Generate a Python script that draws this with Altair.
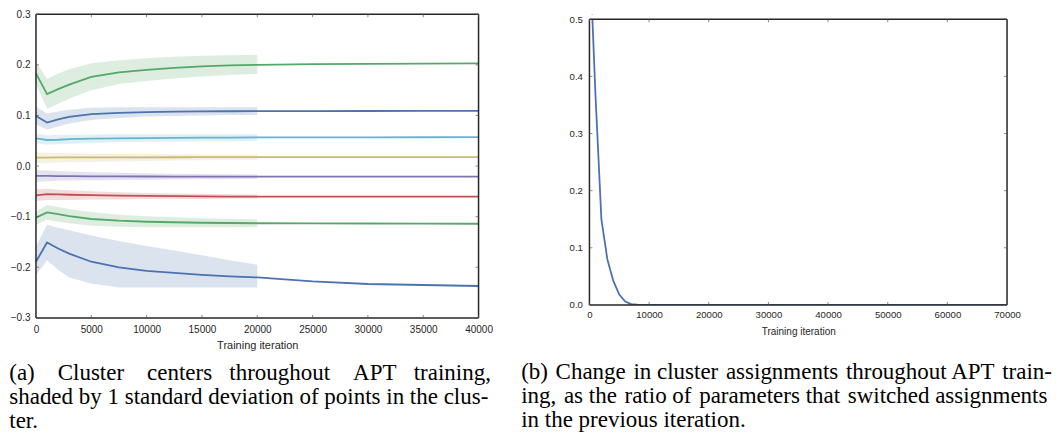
import altair as alt
import pandas as pd

# ---------------- Panel (a): cluster centers ----------------
ITER = [0, 1000, 2000, 3000, 5000, 7500, 10000, 12500, 15000, 17500, 20000,
        25000, 30000, 35000, 40000]
BAND_ITER = [0, 1000, 2000, 3000, 5000, 7500, 10000, 12500, 15000, 17500, 20000]

SERIES = ["c1", "c2", "c3", "c4", "c5", "c6", "c7", "c8"]
COLORS = ["#55A868", "#4C72B0", "#64B5CD", "#CCB974", "#8172B2", "#C44E52",
          "#55A868", "#4C72B0"]

c1_mean = [0.183, 0.142, 0.152, 0.161, 0.176, 0.185, 0.190, 0.194, 0.197, 0.199,
           0.200, 0.2015, 0.202, 0.2025, 0.203]
c1_upper = [0.206, 0.172, 0.183, 0.191, 0.203, 0.209, 0.213, 0.216, 0.218, 0.219, 0.220]
c1_lower = [0.162, 0.113, 0.123, 0.133, 0.150, 0.162, 0.168, 0.173, 0.177, 0.180, 0.182]

c2_mean = [0.0987, 0.086, 0.092, 0.097, 0.1026, 0.105, 0.1066, 0.1074, 0.108, 0.1083,
           0.1085, 0.1087, 0.1088, 0.1089, 0.109]
c2_upper = [0.117, 0.104, 0.108, 0.111, 0.115, 0.116, 0.116, 0.116, 0.116, 0.116, 0.116]
c2_lower = [0.082, 0.072, 0.078, 0.084, 0.091, 0.095, 0.098, 0.099, 0.100, 0.101, 0.101]

c3_mean = [0.0546, 0.0515, 0.052, 0.053, 0.054, 0.0548, 0.0553, 0.0557, 0.056, 0.0563,
           0.0566, 0.0567, 0.0568, 0.0569, 0.057]
c3_upper = [0.064, 0.061, 0.0615, 0.062, 0.0625, 0.063, 0.063, 0.063, 0.063, 0.063, 0.063]
c3_lower = [0.045, 0.042, 0.043, 0.044, 0.0455, 0.047, 0.048, 0.048, 0.049, 0.049, 0.050]

c4_mean = [0.0165, 0.0165, 0.017, 0.017, 0.017, 0.0172, 0.0173, 0.0174, 0.0175, 0.0175,
           0.0175, 0.0176, 0.0176, 0.0176, 0.0176]
c4_upper = [0.027, 0.0265, 0.026, 0.0255, 0.025, 0.0245, 0.024, 0.0235, 0.023, 0.023, 0.023]
c4_lower = [0.006, 0.0065, 0.007, 0.0075, 0.008, 0.009, 0.010, 0.011, 0.0115, 0.012, 0.012]

c5_mean = [-0.0195, -0.0196, -0.0198, -0.020, -0.0202, -0.0204, -0.0206, -0.0207, -0.0208,
           -0.0209, -0.021, -0.021, -0.021, -0.021, -0.021]
c5_upper = [-0.008, -0.009, -0.010, -0.011, -0.012, -0.013, -0.014, -0.015, -0.0155, -0.016, -0.0165]
c5_lower = [-0.031, -0.030, -0.029, -0.0285, -0.028, -0.0275, -0.027, -0.0265, -0.026, -0.026, -0.0257]

c6_mean = [-0.058, -0.0555, -0.056, -0.0567, -0.0575, -0.0583, -0.059, -0.0595, -0.060,
           -0.0603, -0.0605, -0.0605, -0.0605, -0.0605, -0.0605]
c6_upper = [-0.046, -0.045, -0.047, -0.048, -0.050, -0.052, -0.053, -0.054, -0.055, -0.0555, -0.056]
c6_lower = [-0.069, -0.067, -0.067, -0.067, -0.066, -0.066, -0.065, -0.065, -0.065, -0.064, -0.064]

c7_mean = [-0.102, -0.0915, -0.095, -0.099, -0.1046, -0.108, -0.110, -0.111, -0.112, -0.1125,
           -0.113, -0.1133, -0.1135, -0.1137, -0.114]
c7_upper = [-0.090, -0.077, -0.081, -0.085, -0.091, -0.096, -0.099, -0.101, -0.103, -0.104, -0.105]
c7_lower = [-0.116, -0.106, -0.110, -0.113, -0.118, -0.120, -0.121, -0.121, -0.121, -0.121, -0.121]

c8_mean = [-0.189, -0.151, -0.163, -0.173, -0.189, -0.200, -0.207, -0.211, -0.215, -0.218,
           -0.220, -0.228, -0.233, -0.235, -0.237]
c8_upper = [-0.159, -0.116, -0.122, -0.127, -0.137, -0.148, -0.158, -0.167, -0.176, -0.186, -0.195]
c8_lower = [-0.215, -0.186, -0.205, -0.220, -0.232, -0.240, -0.240, -0.240, -0.240, -0.240, -0.240]

MEANS = [c1_mean, c2_mean, c3_mean, c4_mean, c5_mean, c6_mean, c7_mean, c8_mean]
UPPERS = [c1_upper, c2_upper, c3_upper, c4_upper, c5_upper, c6_upper, c7_upper, c8_upper]
LOWERS = [c1_lower, c2_lower, c3_lower, c4_lower, c5_lower, c6_lower, c7_lower, c8_lower]

A_XDOM = [0, 40000]
A_YDOM = [-0.3, 0.3]
A_XTICKS = [0, 5000, 10000, 15000, 20000, 25000, 30000, 35000, 40000]
A_YTICKS = [-0.3, -0.2, -0.1, 0.0, 0.1, 0.2, 0.3]

# ---------------- Panel (b): assignment changes ----------------
RATIO_ITER = [0, 1000, 2000, 3000, 4000, 5000, 6000, 7000, 8000, 9000, 10000,
              20000, 30000, 40000, 50000, 60000, 70000]
RATIO = [0.63, 0.37, 0.15, 0.08, 0.042, 0.018, 0.006, 0.0015, 0.0003, 0.0, 0.0,
         0.0, 0.0, 0.0, 0.0, 0.0, 0.0]
B_XDOM = [0, 70000]
B_YDOM = [0.0, 0.5]
B_XTICKS = [0, 10000, 20000, 30000, 40000, 50000, 60000, 70000]
B_YTICKS = [0.0, 0.1, 0.2, 0.3, 0.4, 0.5]

NB = "\u00a0"
HS = "\u00a0\u200a"  # slightly widened word gap for the justified lines
CAPTION_A = ["(a)" + NB * 4 + "Cluster" + NB * 4 + "centers" + NB * 3 + "throughout"
             + NB * 4 + "APT" + NB * 3 + "training,",
             "shaded by 1 standard deviation of points in the clus-",
             "ter."]
CAPTION_B = ["(b)" + HS + "Change" + HS + "in cluster" + HS + "assignments" + HS
             + "throughout APT" + HS + "train-",
             "ing," + HS + "as the" + HS + "ratio of" + HS + "parameters that" + HS
             + "switched assignments",
             "in the previous iteration."]

# ---------------- layout constants ----------------
A_W, A_H = 443, 304
B_W, B_PLOT_H, B_TOP_GAP = 418, 286, 5
B_H = B_PLOT_H + B_TOP_GAP
B_YTOP = B_YDOM[1] * B_H / B_PLOT_H  # view top sits a few px above the 0.5 frame

LABEL_FONT = "Liberation Sans"
TXT = "#262626"
TICK = "#555555"
SPINE_W = 1.5

# ---------------- tables ----------------
line_rows, band_rows = [], []
for s, m, u, l in zip(SERIES, MEANS, UPPERS, LOWERS):
    for x, v in zip(ITER, m):
        line_rows.append({"series": s, "iter": x, "value": v})
    for x, hi, lo in zip(BAND_ITER, u, l):
        band_rows.append({"series": s, "iter": x, "upper": hi, "lower": lo})
lines_df = pd.DataFrame(line_rows)
bands_df = pd.DataFrame(band_rows)
ratio_df = pd.DataFrame({"iter": RATIO_ITER, "ratio": RATIO})


def frame_df(xd, yd):
    return pd.DataFrame({
        "x": [xd[0], xd[1], xd[0], xd[0]],
        "x2": [xd[0], xd[1], xd[1], xd[1]],
        "y": [yd[0], yd[0], yd[1], yd[0]],
        "y2": [yd[1], yd[1], yd[1], yd[0]],
    })


def edge_df(ticks, edge):
    return pd.DataFrame({"t": ticks, "edge": [edge] * len(ticks)})


def x_axis(vals, size, tsize, lpad, tpad):
    return alt.Axis(values=vals, format="d", title="Training iteration", grid=False,
                    ticks=False, domain=False, labelPadding=lpad, labelFlush=False,
                    labelOverlap=False, labelFont=LABEL_FONT, labelFontSize=size,
                    labelColor=TXT, titleFont=LABEL_FONT, titleFontSize=tsize,
                    titleFontWeight="normal", titleColor=TXT, titlePadding=tpad)


def y_axis(vals, size, lpad):
    return alt.Axis(values=vals, format=".1f", title=None, grid=False, ticks=False,
                    domain=False, labelPadding=lpad, labelFlush=False, labelOverlap=False,
                    labelFont=LABEL_FONT, labelFontSize=size, labelColor=TXT)


def decorations(xs, ys, xa, ya, xd, yd, xticks, yticks):
    """Frame (spines) and small inward ticks on all four sides."""
    frame = alt.Chart(frame_df(xd, yd)).mark_rule(color=TXT, strokeWidth=SPINE_W).encode(
        x=alt.X("x:Q", scale=xs, axis=xa), x2="x2:Q",
        y=alt.Y("y:Q", scale=ys, axis=ya), y2="y2:Q",
    )
    tk = dict(color=TICK, size=3, thickness=1)
    top = alt.Chart(edge_df(xticks, yd[1])).mark_tick(orient="vertical", yOffset=1.5, **tk).encode(
        x=alt.X("t:Q", scale=xs, axis=xa), y=alt.Y("edge:Q", scale=ys, axis=ya))
    bottom = alt.Chart(edge_df(xticks, yd[0])).mark_tick(orient="vertical", yOffset=-1.5, **tk).encode(
        x=alt.X("t:Q", scale=xs, axis=xa), y=alt.Y("edge:Q", scale=ys, axis=ya))
    left = alt.Chart(edge_df(yticks, xd[0])).mark_tick(orient="horizontal", xOffset=1.5, **tk).encode(
        y=alt.Y("t:Q", scale=ys, axis=ya), x=alt.X("edge:Q", scale=xs, axis=xa))
    right = alt.Chart(edge_df(yticks, xd[1])).mark_tick(orient="horizontal", xOffset=-1.5, **tk).encode(
        y=alt.Y("t:Q", scale=ys, axis=ya), x=alt.X("edge:Q", scale=xs, axis=xa))
    return [frame, top, bottom, left, right]


color_scale = alt.Scale(domain=SERIES, range=COLORS)

# ---------------- chart (a) ----------------
a_xs = alt.Scale(domain=A_XDOM, nice=False)
a_ys = alt.Scale(domain=A_YDOM, nice=False)
a_xa = x_axis(A_XTICKS, 10, 11, 7, 5)
a_ya = y_axis(A_YTICKS, 10, 6)

bands = alt.Chart(bands_df).mark_area(opacity=0.2).encode(
    x=alt.X("iter:Q", scale=a_xs, axis=a_xa),
    y=alt.Y("upper:Q", scale=a_ys, axis=a_ya),
    y2="lower:Q",
    color=alt.Color("series:N", scale=color_scale, legend=None),
    detail="series:N",
)
lines = alt.Chart(lines_df).mark_line(strokeWidth=1.8).encode(
    x=alt.X("iter:Q", scale=a_xs, axis=a_xa),
    y=alt.Y("value:Q", scale=a_ys, axis=a_ya),
    color=alt.Color("series:N", scale=color_scale, legend=None),
    detail="series:N",
)

left = alt.layer(bands, lines,
                 *decorations(a_xs, a_ys, a_xa, a_ya, A_XDOM, A_YDOM, A_XTICKS, A_YTICKS)
                 ).properties(
    width=A_W, height=A_H,
    title=alt.TitleParams(text=CAPTION_A, orient="bottom", anchor="start",
                          font="Liberation Serif", fontSize=23, fontWeight="normal",
                          color="black", lineHeight=24, offset=11, dx=-1),
)

# ---------------- chart (b) ----------------
b_xs = alt.Scale(domain=B_XDOM, nice=False)
b_ys = alt.Scale(domain=[B_YDOM[0], B_YTOP], nice=False)
b_xa = x_axis(B_XTICKS, 9.6, 10, 5, 7)
b_ya = y_axis(B_YTICKS, 9.6, 7)

b_line = alt.Chart(ratio_df).mark_line(strokeWidth=1.8, color="#4C72B0", clip=True).encode(
    x=alt.X("iter:Q", scale=b_xs, axis=b_xa),
    y=alt.Y("ratio:Q", scale=b_ys, axis=b_ya),
)
# white strip above the 0.5 frame line, so the curve stops at the frame
mask = alt.Chart(pd.DataFrame({"x": [B_XDOM[0]], "x2": [B_XDOM[1]],
                               "y": [B_YDOM[1]], "y2": [B_YTOP]})).mark_rect(
    color="white", clip=True).encode(
    x=alt.X("x:Q", scale=b_xs, axis=b_xa), x2="x2:Q",
    y=alt.Y("y:Q", scale=b_ys, axis=b_ya), y2="y2:Q",
)

right = alt.layer(b_line, mask,
                  *decorations(b_xs, b_ys, b_xa, b_ya, B_XDOM, B_YDOM, B_XTICKS, B_YTICKS)
                  ).properties(
    width=B_W, height=B_H,
    title=alt.TitleParams(text=CAPTION_B, orient="bottom", anchor="start",
                          font="Liberation Serif", fontSize=23, fontWeight="normal",
                          color="black", lineHeight=24, offset=25, dx=-48),
)

chart = alt.hconcat(left, right, spacing=27).properties(
    padding=0
).configure_view(stroke="transparent")

chart.save("out.html", embed_options={"renderer": "svg", "actions": False})
